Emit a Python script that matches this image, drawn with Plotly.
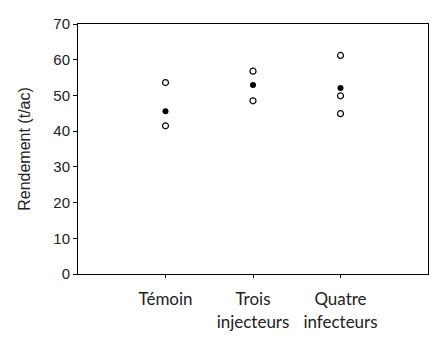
import plotly.graph_objects as go

categories = ["Témoin", "Trois<br>injecteurs", "Quatre<br>infecteurs"]
cat_pos = [1, 2, 3]
# individual observations (open circles)
obs_x = [1, 1, 2, 2, 3, 3, 3]
obs_y = [53.6, 41.5, 56.8, 48.5, 61.2, 49.9, 44.9]
# means (filled circles)
mean_y = [45.6, 52.9, 52.1]
y_ticks = [0, 10, 20, 30, 40, 50, 60, 70]

fig = go.Figure()
fig.add_trace(go.Scatter(
    x=obs_x, y=obs_y, mode="markers",
    marker=dict(symbol="circle-open", size=6, color="black", line=dict(width=1.2)),
    showlegend=False))
fig.add_trace(go.Scatter(
    x=cat_pos, y=mean_y, mode="markers",
    marker=dict(symbol="circle", size=6, color="black"),
    showlegend=False))

fig.update_layout(
    width=447, height=343,
    margin=dict(l=78, r=19, t=24, b=69),
    paper_bgcolor="white", plot_bgcolor="white",
    font=dict(family="Liberation Sans, Arial", color="black", size=14),
)
fig.update_xaxes(
    range=[0, 4], tickvals=cat_pos, ticktext=categories,
    showline=True, linecolor="black", linewidth=1, mirror=True,
    ticks="outside", ticklen=3, tickcolor="black",
    showgrid=False, zeroline=False, automargin=False,
    tickfont=dict(family="Lato, Open Sans", size=17, color="#222"),
    ticklabelstandoff=7,
)
fig.update_yaxes(
    range=[0, 70], tickvals=y_ticks,
    showline=True, linecolor="black", linewidth=1, mirror=True,
    ticks="outside", ticklen=4, tickcolor="black",
    showgrid=False, zeroline=False, automargin=False,
    tickfont=dict(size=15, color="#222"),
    title=dict(text="Rendement (t/ac)", font=dict(size=16, color="#222"), standoff=18),
)
fig.write_html("out.html")
